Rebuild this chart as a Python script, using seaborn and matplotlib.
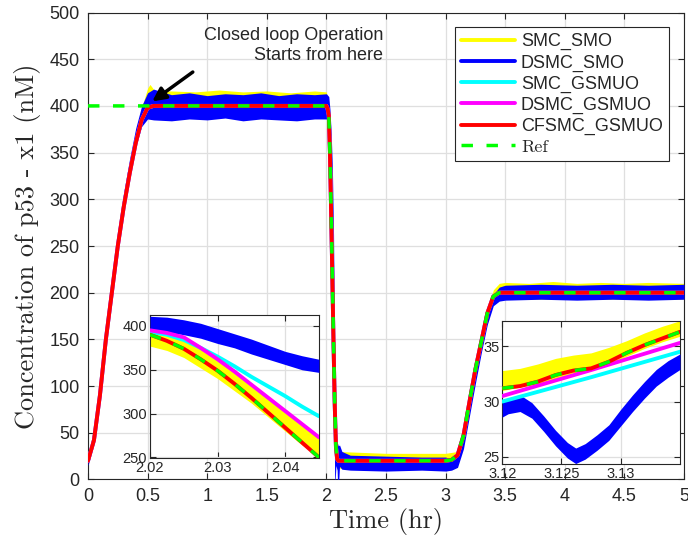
import matplotlib
matplotlib.use('Agg')
import matplotlib.pyplot as plt
from matplotlib.lines import Line2D
from matplotlib.ticker import FuncFormatter
import seaborn as sns

# ---- main plot data (time in hr, p53 concentration in nM) ----
# common trajectory of the GSMUO based controllers
t_main = [0.0, 0.05, 0.1, 0.15, 0.2, 0.25, 0.3, 0.35, 0.4, 0.45,
          0.5, 0.55, 2.0, 2.01, 2.02, 2.03, 2.04, 2.05, 2.06, 2.07,
          2.08, 2.09, 2.1, 3.0, 3.05, 3.1, 3.15, 3.2, 3.25, 3.3,
          3.35, 3.4, 3.45, 3.5, 5.0]
x1_gsmuo = [20, 42, 90, 150, 200, 250, 292, 328, 360, 385,
            398, 400, 400, 397, 390, 349, 284, 215, 145, 80,
            35, 22, 20, 20, 21, 26, 47, 83, 118, 148,
            178, 196, 200, 200, 200]

ref_t = [0.0, 2.0, 2.01, 2.02, 2.03, 2.04, 2.05, 2.06, 2.07, 2.08, 2.09, 2.1,
         3.0, 3.05, 3.1, 3.15, 3.2, 3.25, 3.3, 3.35, 3.4, 3.45, 3.5, 5.0]
ref_x1 = [400, 400, 397, 390, 349, 284, 215, 145, 80, 35, 22, 20,
          20, 21, 26, 47, 83, 118, 148, 178, 196, 200, 200, 200]

# DSMC_SMO noisy band (lower / upper envelope)
dsmc_smo_t = [0.0, 0.05, 0.1, 0.15, 0.2, 0.25, 0.3, 0.35, 0.4, 0.45,
              0.5, 0.55, 0.7, 0.85, 1.0, 1.15, 1.3, 1.45, 1.6, 1.75,
              1.9, 2.0, 2.02, 2.03, 2.04, 2.05, 2.06, 2.065, 2.07, 2.08,
              2.09, 2.095, 2.1, 2.11, 2.13, 2.2, 2.5, 2.8, 3.0, 3.05,
              3.1, 3.15, 3.2, 3.25, 3.3, 3.35, 3.4, 3.45, 3.5, 3.8,
              4.1, 4.4, 4.7, 5.0]
dsmc_smo_lo = [15, 38, 86, 146, 196, 246, 288, 324, 356, 378,
               386, 385, 384, 386, 385, 387, 384, 386, 385, 384,
               386, 386, 393, 380, 356, 290, 180, 60, -10, 15,
               10, -10, -10, 14, 11, 10, 9, 10, 9, 10,
               13, 33, 68, 103, 136, 166, 186, 191, 192, 193,
               192, 193, 192, 193]
dsmc_smo_hi = [25, 55, 108, 168, 218, 266, 308, 344, 376, 400,
               414, 418, 412, 414, 411, 413, 412, 414, 411, 413,
               412, 413, 410, 396, 371, 335, 262, 190, 120, 60,
               40, 38, 36, 37, 30, 26, 25, 24, 24, 22,
               27, 48, 86, 120, 150, 180, 198, 206, 208, 209,
               208, 209, 208, 209]

# SMC_SMO noisy band
smc_smo_t = [0.0, 0.1, 0.2, 0.3, 0.4, 0.45, 0.5, 0.52, 0.56, 0.7,
             0.9, 1.1, 1.3, 1.5, 1.7, 1.9, 2.0, 2.02, 2.03, 2.04,
             2.045, 2.06, 2.08, 2.1, 2.5, 3.0, 3.1, 3.2, 3.3, 3.4,
             3.45, 3.5, 3.7, 3.9, 4.1, 4.3, 4.5, 4.7, 5.0]
smc_smo_lo = [18, 88, 198, 290, 358, 383, 390, 390, 390, 390,
              390, 390, 390, 390, 390, 390, 390, 376, 340, 280,
              252, 140, 15, 12, 12, 12, 20, 78, 145, 190,
              192, 193, 193, 193, 193, 193, 193, 193, 193]
smc_smo_hi = [22, 95, 206, 298, 370, 398, 419, 423, 416, 416,
              415, 417, 415, 416, 414, 416, 415, 395, 363, 302,
              272, 160, 40, 30, 28, 28, 30, 88, 155, 203,
              210, 211, 210, 212, 210, 211, 210, 211, 210]

# ---- left inset (falling edge) ----
li_t = [2.02, 2.0225, 2.025, 2.0275, 2.03, 2.0325, 2.035, 2.0375, 2.04, 2.0425, 2.045]
li_ref = [390, 383, 374, 362, 349, 334, 318, 301, 284, 267, 250]
li_cfsmc_gsmuo = [390, 383, 374, 362, 349, 334, 318, 301, 284, 267, 250]
li_dsmc_gsmuo = [395, 392, 387, 375, 362, 348, 333, 318, 303, 288, 273]
li_smc_gsmuo = [393, 390, 384, 375, 365, 354, 342, 331, 320, 308, 297]
li_smc_smo_lo = [377, 372, 364, 352, 340, 326, 312, 296, 280, 264, 252]
li_smc_smo_hi = [395, 391, 385, 374, 363, 349, 335, 319, 302, 286, 272]
li_dsmc_smo_lo = [394, 393, 390, 386, 380, 375, 368, 362, 356, 350, 347]
li_dsmc_smo_hi = [411, 410, 407, 403, 397, 391, 385, 378, 371, 366, 362]

# ---- right inset (rising edge) ----
ri_t = [3.12, 3.1215, 3.123, 3.1245, 3.126, 3.1275, 3.129, 3.1305, 3.132, 3.1335, 3.135]
ri_ref = [31.2, 31.4, 31.8, 32.4, 32.8, 33.0, 33.6, 34.4, 35.1, 35.7, 36.3]
ri_cfsmc_gsmuo = [31.2, 31.4, 31.8, 32.4, 32.8, 33.0, 33.6, 34.4, 35.1, 35.7, 36.3]
ri_smc_smo_lo = [31.0, 31.3, 31.6, 32.1, 32.6, 32.9, 33.4, 34.1, 34.8, 35.4, 35.9]
ri_smc_smo_hi = [32.8, 33.0, 33.4, 33.9, 34.2, 34.4, 34.9, 35.5, 36.2, 36.8, 37.3]
ri_t3 = [3.12, 3.1275, 3.135]
ri_dsmc_gsmuo = [30.5, 32.85, 35.3]
ri_smc_gsmuo = [30.0, 32.2, 34.5]
ri_blue_t = [3.12, 3.1205, 3.1215, 3.1225, 3.1235, 3.1245, 3.1255, 3.1262, 3.127,
             3.128, 3.129, 3.13, 3.131, 3.132, 3.133, 3.134, 3.135]
ri_dsmc_smo_lo = [28.6, 28.9, 29.1, 28.5, 27.3, 26.0, 24.9, 24.4, 24.8,
                  25.6, 26.5, 27.8, 29.1, 30.3, 31.4, 32.2, 32.9]
ri_dsmc_smo_hi = [30.1, 30.3, 30.6, 29.9, 28.7, 27.4, 26.3, 25.8, 26.2,
                  27.0, 27.9, 29.3, 30.6, 31.8, 32.9, 33.7, 34.3]

labels = ['SMC_SMO', 'DSMC_SMO', 'SMC_GSMUO', 'DSMC_GSMUO', 'CFSMC_GSMUO', 'Ref']
colors = ['#ffff00', '#0000ff', '#00ffff', '#ff00ff', '#ff0000', '#00ff00']

sns.set_style('whitegrid')
plt.rcParams['font.family'] = ['Liberation Sans', 'DejaVu Sans']
plt.rcParams['axes.edgecolor'] = '#262626'
plt.rcParams['grid.color'] = '#dfdfdf'
plt.rcParams['grid.linewidth'] = 0.9
plt.rcParams['xtick.color'] = '#262626'
plt.rcParams['ytick.color'] = '#262626'

fmt = FuncFormatter(lambda v, p: '%g' % round(v, 4))
LW = 2.8
DASH = (3.3, 3.9)


def style_axes(ax, size):
    ax.tick_params(direction='in', top=True, right=True, length=4, width=0.8,
                   labelsize=size, bottom=True, left=True)
    for s in ax.spines.values():
        s.set_linewidth(0.8)
        s.set_color('#262626')
    ax.xaxis.set_major_formatter(fmt)
    ax.yaxis.set_major_formatter(fmt)
    ax.grid(True)
    ax.set_axisbelow(True)


fig = plt.figure(figsize=(6.88, 5.46), dpi=100)
ax = fig.add_axes([0.1279, 0.1218, 0.8663, 0.8553])

ax.fill_between(smc_smo_t, smc_smo_lo, smc_smo_hi, color=colors[0], lw=0, zorder=2)
ax.fill_between(dsmc_smo_t, dsmc_smo_lo, dsmc_smo_hi, color=colors[1], lw=0, zorder=3)
sns.lineplot(x=t_main, y=x1_gsmuo, color=colors[2], lw=LW, ax=ax, zorder=4)
sns.lineplot(x=t_main, y=x1_gsmuo, color=colors[3], lw=LW, ax=ax, zorder=5)
sns.lineplot(x=t_main, y=x1_gsmuo, color=colors[4], lw=LW, ax=ax, zorder=6)
sns.lineplot(x=ref_t, y=ref_x1, color=colors[5], lw=2.5, dashes=False, ax=ax, zorder=7)
ax.lines[-1].set_dashes(DASH)

ax.set_xlim(0, 5)
ax.set_ylim(0, 500)
ax.set_xticks([0, 0.5, 1, 1.5, 2, 2.5, 3, 3.5, 4, 4.5, 5])
ax.set_yticks(range(0, 501, 50))
style_axes(ax, 13)
ax.tick_params(axis='both', pad=6)
ax.set_xlabel('Time (hr)', fontfamily='cmr10', fontsize=19, labelpad=2)
ax.set_ylabel('Concentration of p53 - x1 (nM)', fontfamily='cmr10', fontsize=19, labelpad=6)

ax.annotate('', xy=(0.52, 403), xytext=(0.898, 438),
            arrowprops=dict(arrowstyle='-|>', color='k', lw=2.5, mutation_scale=20),
            zorder=10)
ax.text(2.475, 485, 'Closed loop Operation\nStarts from here', ha='right', va='top',
        fontsize=13, linespacing=1.25, color='#262626', zorder=10)

handles = []
for i, (lab, c) in enumerate(zip(labels, colors)):
    if lab == 'Ref':
        handles.append(Line2D([], [], color=c, lw=2.5, dashes=DASH))
    else:
        handles.append(Line2D([], [], color=c, lw=2.8))
leg = ax.legend(handles, labels, loc='upper right', bbox_to_anchor=(0.975, 0.969),
                borderaxespad=0, fontsize=13, handlelength=3.0, handletextpad=0.3,
                labelspacing=0.22, borderpad=0.35, fancybox=False, framealpha=1,
                edgecolor='#262626')
leg.get_frame().set_linewidth(0.8)
leg.get_texts()[-1].set_fontfamily('cmr10')

# ---- left inset ----
axl = fig.add_axes([0.218, 0.1606, 0.2456, 0.2625])
axl.fill_between(li_t, li_smc_smo_lo, li_smc_smo_hi, color=colors[0], lw=0, zorder=2)
axl.fill_between(li_t, li_dsmc_smo_lo, li_dsmc_smo_hi, color=colors[1], lw=0, zorder=3)
sns.lineplot(x=li_t, y=li_smc_gsmuo, color=colors[2], lw=LW, ax=axl, zorder=4)
sns.lineplot(x=li_t, y=li_dsmc_gsmuo, color=colors[3], lw=LW, ax=axl, zorder=5)
sns.lineplot(x=li_t, y=li_cfsmc_gsmuo, color=colors[4], lw=LW, ax=axl, zorder=6)
sns.lineplot(x=li_t, y=li_ref, color=colors[5], lw=2.5, ax=axl, zorder=7)
axl.lines[-1].set_dashes(DASH)
axl.set_xlim(2.02, 2.045)
axl.set_ylim(249, 412.5)
axl.set_xticks([2.02, 2.03, 2.04])
axl.set_yticks([250, 300, 350, 400])
style_axes(axl, 10.5)
axl.tick_params(axis='both', pad=2)
axl.set_xlabel('')
axl.set_ylabel('')

# ---- right inset ----
axr = fig.add_axes([0.730, 0.150, 0.2583, 0.2625])
axr.fill_between(ri_t, ri_smc_smo_lo, ri_smc_smo_hi, color=colors[0], lw=0, zorder=2)
axr.fill_between(ri_blue_t, ri_dsmc_smo_lo, ri_dsmc_smo_hi, color=colors[1], lw=0, zorder=3)
sns.lineplot(x=ri_t3, y=ri_smc_gsmuo, color=colors[2], lw=LW, ax=axr, zorder=4)
sns.lineplot(x=ri_t3, y=ri_dsmc_gsmuo, color=colors[3], lw=LW, ax=axr, zorder=5)
sns.lineplot(x=ri_t, y=ri_cfsmc_gsmuo, color=colors[4], lw=LW, ax=axr, zorder=6)
sns.lineplot(x=ri_t, y=ri_ref, color=colors[5], lw=2.5, ax=axr, zorder=7)
axr.lines[-1].set_dashes(DASH)
axr.set_xlim(3.12, 3.135)
axr.set_ylim(24.35, 37.3)
axr.set_xticks([3.12, 3.125, 3.13])
axr.set_yticks([25, 30, 35])
style_axes(axr, 10.5)
axr.tick_params(axis='both', pad=2)
axr.set_xlabel('')
axr.set_ylabel('')

fig.savefig('out.png', dpi=100)
